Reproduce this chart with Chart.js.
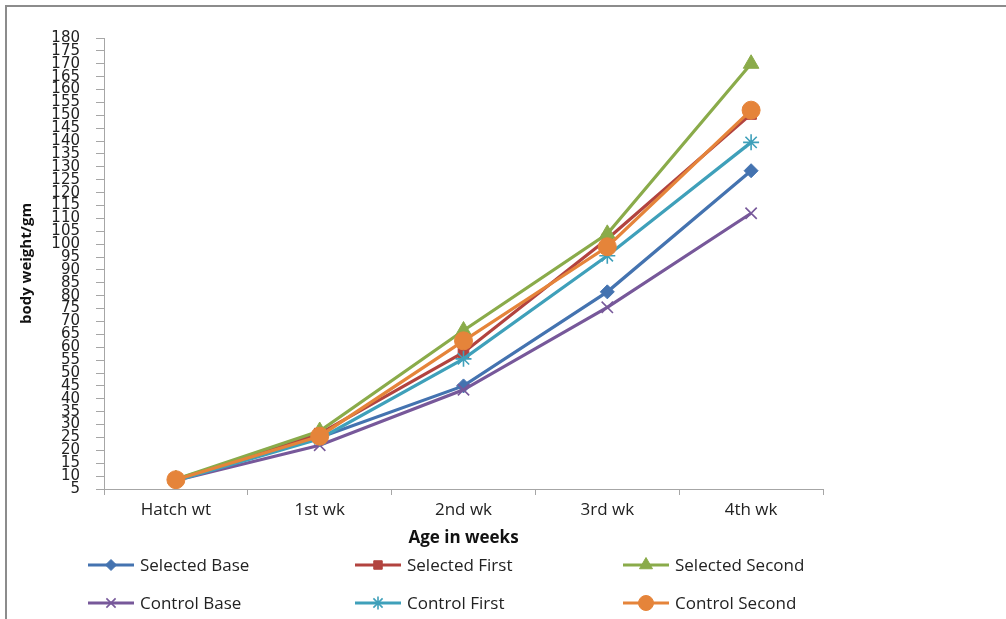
<!DOCTYPE html>
<html>
<head>
<meta charset="utf-8">
<script src="https://cdn.jsdelivr.net/npm/chart.js@4.4.1/dist/chart.umd.min.js"></script>
<style>
  html, body { margin: 0; padding: 0; background: #fff; }
  #wrap { position: relative; width: 1006px; height: 619px; }
  #frame { position: absolute; left: 5px; top: 5px; right: 0; bottom: 0;
           border-left: 2px solid #8c8c8c; border-top: 2px solid #8c8c8c; }
  canvas { position: absolute; left: 0; top: 0; }
</style>
</head>
<body>
<div id="wrap">
  <div id="frame"></div>
  <canvas id="chart" width="1006" height="619"></canvas>
</div>
<script>
// Categories and series (body weight in gm)
const ageLabels = ['Hatch wt', '1st wk', '2nd wk', '3rd wk', '4th wk'];
const selectedBase = [8.5, 25, 45, 81.5, 128.5];
const selectedFirst = [8.7, 26.5, 58, 102, 150.5];
const selectedSecond = [8.8, 27.5, 66.5, 104, 170];
const controlBase = [8.3, 22, 43.5, 75.5, 112];
const controlFirst = [8.2, 24.5, 55.5, 95.5, 139.5];
const controlSecond = [8.6, 25.5, 62.5, 99, 152];

const seriesNames = ['Selected Base', 'Selected First', 'Selected Second', 'Control Base', 'Control First', 'Control Second'];
const seriesData = [selectedBase, selectedFirst, selectedSecond, controlBase, controlFirst, controlSecond];
const seriesColors = ['#4473b0', '#b2433f', '#8aab4a', '#77589a', '#3fa0ba', '#e5843a'];
const seriesMarkers = ['rectRot', 'rect', 'triangle', 'crossRot', 'star', 'circle'];
const markerSizes = [7, 7.5, 9, 8, 8, 9];

const datasets = seriesNames.map((name, i) => ({
  label: name,
  data: seriesData[i],
  borderColor: seriesColors[i],
  backgroundColor: seriesColors[i],
  borderWidth: 3.2,
  pointStyle: seriesMarkers[i],
  pointRadius: markerSizes[i],
  pointBorderWidth: (seriesMarkers[i] === 'crossRot' || seriesMarkers[i] === 'star') ? 1.6 : 1,
  pointBackgroundColor: seriesColors[i],
  pointBorderColor: seriesColors[i],
  tension: 0,
  order: seriesNames.length - i // later series sit on top, like the original
}));

// Legend drawn in a 3 column grid under the axis title
const gridLegend = {
  id: 'gridLegend',
  afterDraw(chart) {
    const ctx = chart.ctx;
    const colX = [88, 355, 623];
    const rowY = [565, 603];
    chart.data.datasets.forEach((ds, i) => {
      const x = colX[i % 3];
      const y = rowY[Math.floor(i / 3)];
      ctx.save();
      ctx.strokeStyle = ds.borderColor;
      ctx.lineWidth = 3;
      ctx.beginPath();
      ctx.moveTo(x, y);
      ctx.lineTo(x + 46, y);
      ctx.stroke();
      ctx.fillStyle = ds.borderColor;
      ctx.lineWidth = ds.pointBorderWidth;
      Chart.helpers.drawPoint(ctx, { pointStyle: ds.pointStyle, radius: ds.pointRadius - 1.5, rotation: 0, borderWidth: ds.pointBorderWidth }, x + 23, y);
      ctx.fillStyle = '#222';
      ctx.font = '17px "Open Sans"';
      ctx.textBaseline = 'middle';
      ctx.textAlign = 'left';
      ctx.fillText(ds.label, x + 52, y + 1);
      ctx.restore();
    });
  }
};

const ctx = document.getElementById('chart').getContext('2d');
new Chart(ctx, {
  type: 'line',
  data: { labels: ageLabels, datasets: datasets },
  plugins: [gridLegend],
  options: {
    responsive: false,
    animation: false,
    layout: { padding: { left: 8, right: 183, top: 38, bottom: 70 } },
    plugins: {
      legend: { display: false },
      tooltip: { enabled: false }
    },
    scales: {
      x: {
        offset: true,
        grid: { offset: true, drawOnChartArea: false, drawTicks: true, tickLength: 6, color: '#a6a6a6' },
        border: { color: '#a6a6a6', width: 1 },
        ticks: { color: '#222', font: { family: 'Open Sans', size: 17 }, padding: 5, maxRotation: 0 },
        title: { display: true, text: 'Age in weeks', color: '#111', font: { family: 'Open Sans', size: 17, weight: 'bold' }, padding: { top: 0, bottom: 1 } },
        afterFit(scale) { scale.height = 60; }
      },
      y: {
        min: 5,
        max: 180,
        grid: { drawOnChartArea: false, drawTicks: true, tickLength: 8, color: '#a6a6a6' },
        border: { color: '#a6a6a6', width: 1 },
        ticks: { stepSize: 5, autoSkip: false, color: '#222', font: { family: 'DejaVu Sans', size: 15 }, padding: 16 },
        title: { display: true, text: 'body weight/gm', color: '#111', font: { family: 'Open Sans', size: 15, weight: 'bold' }, padding: { top: 10, bottom: 0 } },
        afterFit(scale) { scale.width = 96; }
      }
    }
  }
});
</script>
</body>
</html>
